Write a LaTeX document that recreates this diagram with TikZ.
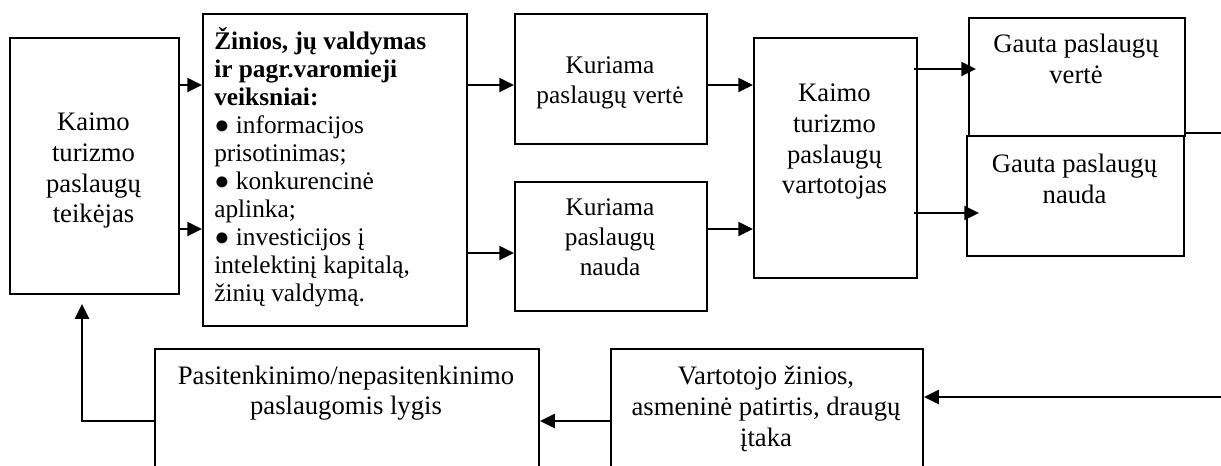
\documentclass[tikz,border=0pt]{standalone}
\usepackage{fontspec}
\setmainfont{Liberation Serif}
\usetikzlibrary{arrows.meta,calc}
\newdimen\px \px=0.75pt
\tikzset{
  box/.style={draw, line width=1.6pt, rectangle, anchor=north west, inner sep=0pt},
  lbl/.style={align=center, inner sep=0pt, font=\fontsize{20pt}{23pt}\selectfont},
  lblsm/.style={align=center, inner sep=0pt, font=\fontsize{19pt}{22.5pt}\selectfont},
  arr/.style={line width=1.6pt, -{Triangle[length=11pt,width=10.5pt]}},
  wire/.style={line width=1.6pt},
}
\begin{document}
\begin{tikzpicture}[x=0.75pt,y=-0.75pt]
\useasboundingbox (0,0) rectangle (1221,466);
\clip (0,0) rectangle (1221,466);

% boxes
\node[box, minimum width=169*\px, minimum height=256*\px] (A) at (9,37) {};
\node[box, minimum width=264*\px, minimum height=312*\px] (B) at (202,13) {};
\node[box, minimum width=192*\px, minimum height=130*\px] (C) at (514,13) {};
\node[box, minimum width=192*\px, minimum height=129*\px] (D) at (514,181) {};
\node[box, minimum width=163*\px, minimum height=240*\px] (E) at (753,37) {};
\node[box, minimum width=216*\px, minimum height=118*\px] (I) at (968,17) {};
\node[box, minimum width=217*\px, minimum height=120*\px] (H) at (966,135) {};
\node[box, minimum width=384*\px, minimum height=140*\px] (F) at (154,348) {};
\node[box, minimum width=312*\px, minimum height=140*\px] (G) at (610,348) {};

% texts
\node[lbl] (tA) at (93.5,171) {Kaimo\\turizmo\\paslaugų\\teikėjas};
\node[anchor=west, align=left, inner sep=0pt, font=\fontsize{19pt}{21pt}\selectfont] (tB) at (214,167.5)
  {\textbf{Žinios, jų valdymas}\\\textbf{ir pagr.varomieji}\\\textbf{veiksniai:}\\● informacijos\\prisotinimas;\\● konkurencinė\\aplinka;\\● investicijos į\\intelektinį kapitalą,\\žinių valdymą.};
\node[lblsm] (tC) at (610,83) {Kuriama\\paslaugų vertė};
\node[lblsm] (tD) at (610,237) {Kuriama\\paslaugų\\nauda};
\node[lbl] (tE) at (834.5,142) {Kaimo\\turizmo\\paslaugų\\vartotojas};
\node[lbl] (tI) at (1076,59) {Gauta paslaugų\\vertė};
\node[lbl] (tH) at (1074.5,179) {Gauta paslaugų\\nauda};
\node[lbl] (tF) at (346,393) {Pasitenkinimo/nepasitenkinimo\\paslaugomis lygis};
\node[lbl] (tG) at (766,409) {Vartotojo žinios,\\asmeninė patirtis, draugų\\įtaka};

% levels of the connectors
\coordinate (r69) at (0,69);
\coordinate (r85) at (0,85);
\coordinate (r133) at (0,133);
\coordinate (r213) at (0,213);
\coordinate (r229) at (0,229);
\coordinate (r253) at (0,253);
\coordinate (r397) at (0,397);
\coordinate (r421) at (0,421);
\coordinate (x82) at (82,0);
\coordinate (outR) at (1230,133);
\coordinate (inR) at (1230,397);

% connectors
\draw[arr] (A.east |- r85) -- (B.west |- r85);
\draw[arr] (A.east |- r229) -- (B.west |- r229);
\draw[arr] (B.east |- r85) -- (C.west |- r85);
\draw[arr] (B.east |- r253) -- (D.west |- r253);
\draw[arr] (C.east |- r85) -- (E.west |- r85);
\draw[arr] (D.east |- r229) -- (E.west |- r229);
\draw[arr] ($(E.east |- r69)+(-4,0)$) -- ($(I.west |- r69)+(8,0)$);
\draw[arr] ($(E.east |- r213)+(-4,0)$) -- ($(H.west |- r213)+(13,0)$);
\draw[wire] (I.east |- r133) -- (outR);
\draw[arr] (inR) -- (G.east |- r397);
\draw[arr] (G.west |- r421) -- (F.east |- r421);
\draw[arr] (F.west |- r421) -| ($(A.south -| x82)+(0,9)$);
\end{tikzpicture}
\end{document}
